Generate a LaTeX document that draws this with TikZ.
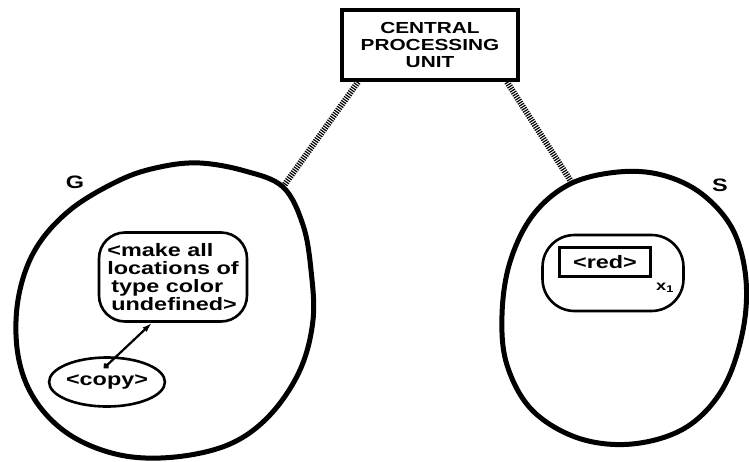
\documentclass[tikz,border=0pt]{standalone}
\usepackage{fontspec}
\newfontfamily\wide[FakeStretch=1.3]{Liberation Sans Bold}
\usetikzlibrary{positioning,arrows.meta,shapes.geometric}

\begin{document}
\begin{tikzpicture}[x=1pt,y=-1pt,font=\wide\fontsize{18}{18}\selectfont]
  \tikzstyle{blob}=[line width=5pt,line join=round]
  \tikzstyle{cell}=[draw,line width=2.6pt,rounded corners=26pt,align=left,inner sep=0pt]
  \tikzstyle{wire}=[line width=6pt,dash pattern=on 1.2pt off 1.2pt,shorten >=2pt]
  \useasboundingbox (0,0) rectangle (749,461);
  \node[draw,line width=4pt,minimum width=176pt,minimum height=70pt,align=center,
    font=\wide\fontsize{16}{17}\selectfont] (cpu) at (430,45) {CENTRAL\\PROCESSING\\UNIT};
  \coordinate (gjoin) at (283,187);
  \coordinate (sjoin) at (572,183);
  \draw[wire] ([xshift=18pt]cpu.south west) -- (gjoin);
  \draw[wire] ([xshift=-13pt]cpu.south east) -- (sjoin);
  \draw[blob] plot[smooth cycle,tension=0.6] coordinates {(200,163) (245,171) (283,187) (303,225)
    (311,270) (313,320) (300,370) (270,415) (230,444) (175,457) (120,455) (70,435) (35,400)
    (18,355) (18,300) (35,250) (70,210) (120,180) (160,167)};
  \node (glabel) at (75,182) {G};
  \node[cell,minimum width=148pt,minimum height=89pt] (make) at (173,277)
    {\textless make all\\locations of\\\hspace*{4pt}type color\\\hspace*{4pt}undefined\textgreater};
  \node[draw,ellipse,line width=2.6pt,minimum width=102pt,minimum height=49pt,inner sep=0pt] (copy) at (107,382) {\textless copy\textgreater};
  \coordinate (dot) at (104,368);
  \draw[line width=2.2pt,{Circle[length=6pt]}-{Latex[length=10pt,width=6pt]}] (dot) -- ([xshift=-21pt]make.south);
  \draw[blob] plot[smooth cycle,tension=0.6] coordinates {(618,172) (662,175) (702,194) (733,230)
    (746,280) (742,335) (722,390) (685,428) (632,444) (578,438) (532,410) (507,365) (502,315)
    (510,262) (533,215) (570,184)};
  \node (slabel) at (720,185) {S};
  \node[cell,minimum width=141pt,minimum height=76pt,rounded corners=32pt] (x1) at (613,273) {};
  \node[draw,line width=2.6pt,minimum width=91pt,minimum height=29pt,inner sep=0pt] (red) at (605,262) {\textless red\textgreater};
  \node[font=\wide\fontsize{14}{14}\selectfont] (xlab) at (665,288) {x\textsubscript{1}};
\end{tikzpicture}
\end{document}
